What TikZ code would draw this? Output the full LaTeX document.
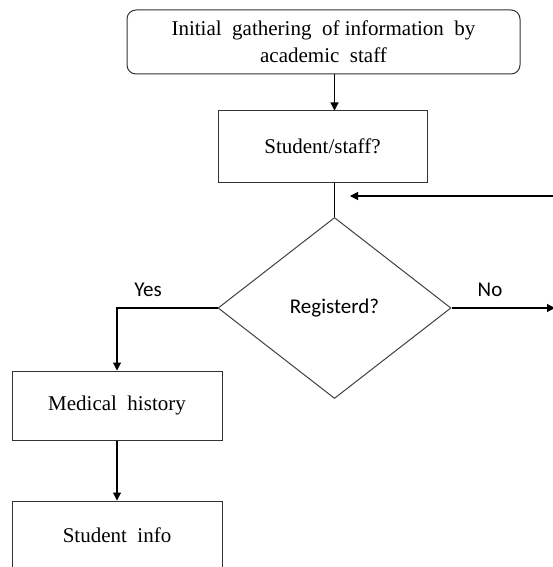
\documentclass[tikz,border=0pt]{standalone}
\usepackage{fontspec}
\setmainfont{Liberation Serif}
\newfontfamily\calfont{Carlito}
\usetikzlibrary{shapes.geometric,arrows.meta}
\begin{document}
\begin{tikzpicture}[x=1pt,y=-1pt,
  box/.style={draw=black!80, line width=1pt, inner sep=0pt, align=center, font=\fontsize{21}{27}\selectfont},
  dia/.style={draw=black!75, line width=1pt, diamond, inner sep=0pt, minimum width=233pt, minimum height=181pt, font=\calfont\fontsize{21}{25}\selectfont},
  arr/.style={line width=1.1pt, -{Triangle[length=8pt,width=8pt]}},
  ln/.style={line width=1.1pt},
  lbl/.style={font=\calfont\fontsize{21}{25}\selectfont}]
\useasboundingbox (0,0) rectangle (553,567);
\node[box, rounded corners=9pt, minimum width=393pt, minimum height=64pt] (init) at (323.5,42)
  {Initial\ \ gathering\ \ of information\ \ by\\academic\ \ staff};
\node[box, minimum width=209pt, minimum height=71pt] (sstaff) at (322.5,146.5) {Student/staff?};
\node[dia] (reg) at (334.5,308) {Registerd?};
\node[box, minimum width=210pt, minimum height=69pt] (med) at (117,405.5) {Medical\ \ history};
\node[box, minimum width=210pt, minimum height=69pt] (info) at (117,535.5) {Student\ \ info};
\coordinate (loopin) at (570,196);
\coordinate (looptip) at (350,196);
\coordinate (noend) at (555,308);
\draw[arr] (init.south -| reg.north) -- (sstaff.north -| reg.north);
\draw[ln] (sstaff.south -| reg.north) -- (reg.north);
\draw[arr] (loopin) -- (looptip);
\draw[arr] (reg.west) -| (med.north);
\draw[arr] (reg.east) -- (noend);
\draw[arr] (med.south) -- (info.north);
\node[lbl] (yes) at (148,290) {Yes};
\node[lbl] (no) at (490,290) {No};
\end{tikzpicture}
\end{document}
